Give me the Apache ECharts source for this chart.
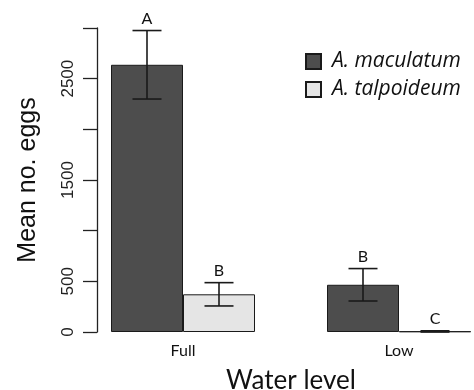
<!DOCTYPE html>
<html>
<head>
<meta charset="utf-8">
<script src="https://cdn.jsdelivr.net/npm/echarts@6/dist/echarts.min.js"></script>
<style>
  html, body { margin: 0; padding: 0; background: #fff; }
  #chart { width: 474px; height: 390px; }
</style>
</head>
<body>
<div id="chart"></div>
<script>
// data
var categories = ['Full', 'Low'];
var seriesNames = ['A. maculatum', 'A. talpoideum'];
var macMeans = [2637, 466];
var macErr = [338, 160];
var talMeans = [372, 6];
var talErr = [115, 6];
var macLetters = ['A', 'B'];
var talLetters = ['B', 'C'];
var yTickLabels = [0, 500, 1500, 2500];

var myChart = echarts.init(document.getElementById('chart'));

var errorSeries = function(means, errs, letters, shift){
    var data = [];
    for (var i = 0; i < means.length; i++) {
        data.push([i, means[i], errs[i], letters[i]]);
    }
    return {
        type: 'custom',
        data: data,
        encode: { x: 0, y: 1 },
        z: 10,
        renderItem: function(params, api){
            var idx = api.value(0);
            var m = api.value(1);
            var e = api.value(2);
            var x = api.coord([idx, m])[0] + shift;
            var top = api.coord([idx, m + e])[1];
            var bot = api.coord([idx, Math.max(0, m - e)])[1];
            var half = 14.5;
            var st = { stroke: '#1a1a1a', lineWidth: 1.6 };
            return {
                type: 'group',
                children: [
                    { type: 'line', shape: { x1: x, y1: top, x2: x, y2: bot }, style: st },
                    { type: 'line', shape: { x1: x - half, y1: top, x2: x + half, y2: top }, style: st },
                    { type: 'line', shape: { x1: x - half, y1: bot, x2: x + half, y2: bot }, style: st },
                    { type: 'text', style: {
                        text: letters[params.dataIndex], x: x, y: top - 4,
                        textAlign: 'center', textVerticalAlign: 'bottom',
                        fontSize: 16, fontFamily: 'Lato', fill: '#111'
                    } }
                ]
            };
        }
    };
};

var option = {
    animation: false,
    grid: { left: 75, width: 432, top: 28, bottom: 58, outerBoundsMode: 'none', containLabel: false },
    legend: {
        data: seriesNames,
        orient: 'vertical',
        left: 300,
        top: 46,
        icon: 'rect',
        itemWidth: 15,
        itemHeight: 15,
        itemGap: 7,
        textStyle: { fontFamily: 'Open Sans', fontStyle: 'italic', fontSize: 21, color: '#111', padding: [0, 0, 0, 6] }
    },
    xAxis: {
        type: 'category',
        data: categories,
        axisLine: { show: false },
        axisTick: { show: false },
        axisLabel: { fontFamily: 'Lato', fontSize: 16, color: '#111', margin: 11 },
        name: 'Water level',
        nameLocation: 'middle',
        nameGap: 36,
        nameTextStyle: { fontFamily: 'Lato', fontSize: 26, color: '#111' }
    },
    yAxis: {
        type: 'value',
        min: 0,
        max: 3000,
        interval: 500,
        offset: -22,
        splitLine: { show: false },
        axisLine: { show: true, lineStyle: { color: '#222', width: 1.3 } },
        axisTick: { show: true, length: 14, lineStyle: { color: '#222', width: 1.3 } },
        axisLabel: {
            rotate: 90,
            margin: 20,
            fontFamily: 'Liberation Sans',
            fontSize: 17,
            color: '#222',
            formatter: function(v){ return yTickLabels.indexOf(v) >= 0 ? String(v) : ''; }
        },
        name: 'Mean no. eggs',
        nameLocation: 'middle',
        nameGap: 56,
        nameTextStyle: { fontFamily: 'Liberation Sans', fontSize: 25, color: '#111' }
    },
    series: [
        {
            name: seriesNames[0],
            type: 'bar',
            data: macMeans,
            barWidth: 72,
            barGap: '0%',
            itemStyle: { color: '#4d4d4d', borderColor: '#1a1a1a', borderWidth: 1 }
        },
        {
            name: seriesNames[1],
            type: 'bar',
            data: talMeans,
            barWidth: 72,
            barGap: '0%',
            itemStyle: { color: '#e5e5e5', borderColor: '#1a1a1a', borderWidth: 1 }
        },
        errorSeries(macMeans, macErr, macLetters, -36),
        errorSeries(talMeans, talErr, talLetters, 36)
    ]
};

myChart.setOption(option);
</script>
</body>
</html>
